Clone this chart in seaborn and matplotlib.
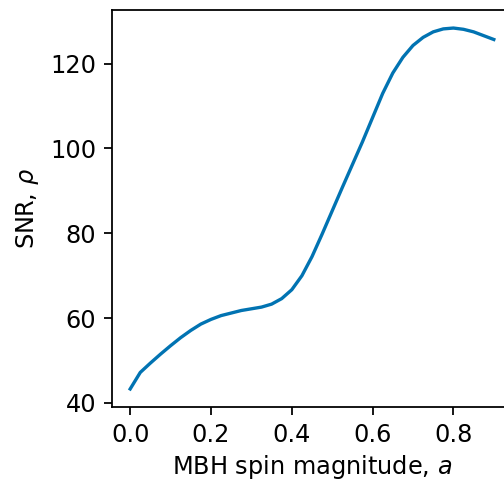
import matplotlib
matplotlib.use("Agg")
import matplotlib.pyplot as plt
import seaborn as sns
import pandas as pd

spin = [0.0, 0.025, 0.05, 0.075, 0.1, 0.125, 0.15, 0.175, 0.2, 0.225, 0.25,
        0.275, 0.3, 0.325, 0.35, 0.375, 0.4, 0.425, 0.45, 0.475, 0.5, 0.525,
        0.55, 0.575, 0.6, 0.625, 0.65, 0.675, 0.7, 0.725, 0.75, 0.775, 0.8,
        0.825, 0.85, 0.875, 0.9]
snr = [43.3, 47.2, 49.4, 51.5, 53.5, 55.4, 57.1, 58.6, 59.7, 60.6, 61.2,
       61.8, 62.2, 62.6, 63.3, 64.6, 66.7, 70.0, 74.5, 79.8, 85.3, 90.8,
       96.2, 101.6, 107.3, 113.0, 117.8, 121.5, 124.3, 126.2, 127.5, 128.2, 128.4,
       128.1, 127.5, 126.6, 125.7]

df = pd.DataFrame({"spin": spin, "snr": snr})

plt.rcParams["font.size"] = 10.8
fig = plt.figure(figsize=(504 / 160, 481 / 160), dpi=160)
ax = fig.add_axes([112 / 504, 74 / 481, 400 / 504, 397 / 481])
sns.lineplot(data=df, x="spin", y="snr", ax=ax, color="#0173b2", linewidth=1.5)
ax.set_xticks([0.0, 0.2, 0.4, 0.6, 0.8])
ax.set_yticks([40, 60, 80, 100, 120])
ax.set_xlabel(r"MBH spin magnitude, $a$", labelpad=3)
ax.set_ylabel(r"SNR, $\rho$")
fig.savefig("out.png", dpi=160)
